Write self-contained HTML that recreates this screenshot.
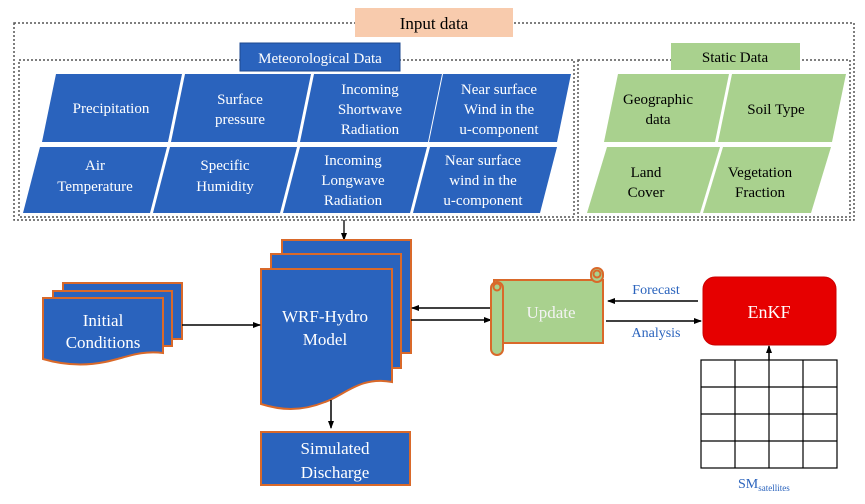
<!DOCTYPE html>
<html><head><meta charset="utf-8"><style>
body{margin:0;background:#fff}
svg text{font-family:"Liberation Serif",serif}
</style></head><body>
<svg width="865" height="499" viewBox="0 0 865 499" xmlns="http://www.w3.org/2000/svg">
<defs>
<marker id="a" markerWidth="8" markerHeight="8" refX="7" refY="4" orient="auto" markerUnits="userSpaceOnUse"><path d="M0,1 L8,4 L0,7z" fill="#000"/></marker>
</defs>
<g fill="none" stroke="#555" stroke-width="1.5" stroke-dasharray="2,2">
<rect x="14" y="23" width="840" height="197"/>
<rect x="19" y="60" width="555" height="157"/>
<rect x="578" y="60" width="272" height="157"/>
</g>
<rect x="355" y="8" width="158" height="29" fill="#f8cbad"/>
<text x="434" y="29" font-size="17" text-anchor="middle">Input data</text>
<rect x="240" y="43" width="160" height="28" fill="#2a63bd" stroke="#1d4a90"/>
<text x="320" y="63" font-size="15" fill="#fff" text-anchor="middle">Meteorological Data</text>
<rect x="671" y="43" width="129" height="27" fill="#a9d18e"/>
<text x="735" y="62" font-size="15" text-anchor="middle">Static Data</text>
<g fill="#2a63bd">
<polygon points="56,74 182,74 168,142 42,142"/>
<polygon points="185,74 311,74 297,142 171,142"/>
<polygon points="314,74 442,74 428,142 300,142"/>
<polygon points="443,74 571,74 557,142 429,142"/>
<polygon points="40,147 167,147 150,213 23,213"/>
<polygon points="170,147 297,147 280,213 153,213"/>
<polygon points="300,147 427,147 410,213 283,213"/>
<polygon points="430,147 557,147 540,213 413,213"/>
</g>
<g fill="#a9d18e">
<polygon points="618,74 729,74 715,142 604,142"/>
<polygon points="732,74 846,74 832,142 718,142"/>
<polygon points="607,147 720,147 700,213 587,213"/>
<polygon points="723,147 831,147 811,213 703,213"/>
</g>
<g font-size="15" fill="#fff" text-anchor="middle">
<text x="111" y="113">Precipitation</text>
<text x="240" y="104">Surface</text><text x="240" y="124">pressure</text>
<text x="370" y="94">Incoming</text><text x="370" y="114">Shortwave</text><text x="370" y="134">Radiation</text>
<text x="499" y="94">Near surface</text><text x="499" y="114">Wind in the</text><text x="499" y="134">u-component</text>
<text x="95" y="170">Air</text><text x="95" y="191">Temperature</text>
<text x="225" y="170">Specific</text><text x="225" y="191">Humidity</text>
<text x="353" y="165">Incoming</text><text x="353" y="185">Longwave</text><text x="353" y="205">Radiation</text>
<text x="483" y="165">Near surface</text><text x="483" y="185">wind in the</text><text x="483" y="205">u-component</text>
</g>
<g font-size="15" fill="#000" text-anchor="middle">
<text x="658" y="104">Geographic</text><text x="658" y="124">data</text>
<text x="776" y="114">Soil Type</text>
<text x="646" y="177">Land</text><text x="646" y="197">Cover</text>
<text x="760" y="177">Vegetation</text><text x="760" y="197">Fraction</text>
</g>
<line x1="344" y1="220" x2="344" y2="240" stroke="#000" stroke-width="1.3" marker-end="url(#a)"/>
<g fill="#2a63bd" stroke="#d9692a" stroke-width="2">
<rect x="282" y="240" width="129" height="113"/>
<rect x="271" y="254" width="130" height="114"/>
<path d="M261,269 H392 V382 C360,376 345,395 325,402 C300,412 280,410 261,404 Z"/>
<rect x="63" y="283" width="119" height="56"/>
<rect x="53" y="291" width="119" height="55"/>
<path d="M43,298 H163 V353 C140,350 125,358 105,362 C80,367 60,364 43,359 Z"/>
<rect x="261" y="432" width="149" height="53"/>
</g>
<g font-size="17" fill="#fff" text-anchor="middle">
<text x="325" y="322">WRF-Hydro</text><text x="325" y="345">Model</text>
<text x="103" y="326">Initial</text><text x="103" y="348">Conditions</text>
<text x="335" y="454">Simulated</text><text x="335" y="478">Discharge</text>
</g>
<g stroke="#000" stroke-width="1.5" fill="none">
<line x1="182" y1="325" x2="260" y2="325" marker-end="url(#a)"/>
<line x1="492" y1="308" x2="412" y2="308" marker-end="url(#a)"/>
<line x1="411" y1="320" x2="491" y2="320" marker-end="url(#a)"/>
<line x1="698" y1="301" x2="608" y2="301" marker-end="url(#a)"/>
<line x1="606" y1="321" x2="701" y2="321" marker-end="url(#a)"/>
<line x1="331" y1="400" x2="331" y2="428" marker-end="url(#a)"/>
<line x1="769" y1="360" x2="769" y2="346" marker-end="url(#a)"/>
</g>
<g fill="#a9d18e" stroke="#d9692a" stroke-width="2">
<rect x="494" y="280" width="109" height="63"/>
<rect x="591" y="268" width="12" height="14" rx="6"/>
<rect x="491" y="282" width="12" height="73" rx="6"/>
<circle cx="497" cy="287" r="3.5"/>
<circle cx="597" cy="274" r="3.5"/>
</g>
<text x="551" y="318" font-size="17" fill="#f3f3f3" text-anchor="middle">Update</text>
<g font-size="14" fill="#2a63bd" text-anchor="middle">
<text x="656" y="294">Forecast</text><text x="656" y="337">Analysis</text>
</g>
<rect x="703" y="277" width="133" height="68" rx="12" fill="#e60000" stroke="#c00"/>
<text x="769" y="318" font-size="18" fill="#fff" text-anchor="middle">EnKF</text>
<g stroke="#000" stroke-width="1.2" fill="none">
<rect x="701" y="360" width="136" height="108"/>
<line x1="735" y1="360" x2="735" y2="468"/><line x1="769" y1="360" x2="769" y2="468"/><line x1="803" y1="360" x2="803" y2="468"/>
<line x1="701" y1="387" x2="837" y2="387"/><line x1="701" y1="414" x2="837" y2="414"/><line x1="701" y1="441" x2="837" y2="441"/>
</g>
<text x="738" y="488" font-size="14" fill="#2a63bd">SM<tspan font-size="9" dy="3">satellites</tspan></text>
</svg>
</body></html>
